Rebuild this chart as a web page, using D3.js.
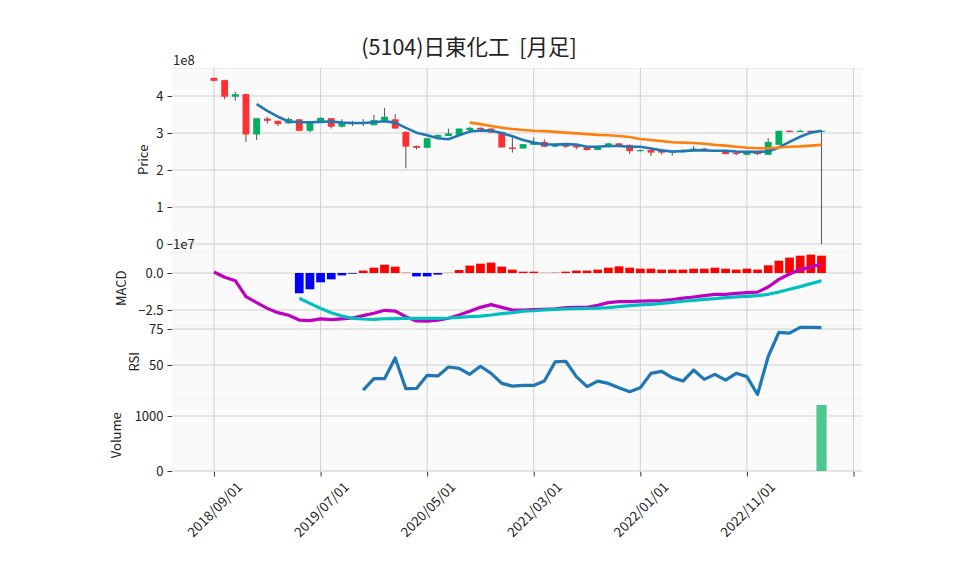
<!DOCTYPE html>
<html><head><meta charset="utf-8">
<script src="https://cdn.jsdelivr.net/npm/d3@7"></script>
<style>
body{margin:0;background:#fff}
text{font-family:"Noto Sans CJK JP","DejaVu Sans",sans-serif;fill:#222}
</style>
</head><body>
<svg id="c" width="958" height="575"></svg>
<script>
// ---------------- DATA (price values in units of 1e8, MACD in 1e7) ----------------
const titleText = "(5104)日東化工  [月足]";
const startMonth = new Date(2018, 8, 1);
const tickIdx = [0, 10, 20, 30, 40, 50, 60];

const openV  = [4.49,4.43,3.98,4.05,2.96,3.39,3.33,3.26,3.37,3.06,3.28,3.40,3.17,3.28,3.27,3.21,3.33,3.37,3.03,2.65,
                2.60,2.88,2.92,2.95,3.08,3.14,3.12,3.03,2.61,2.58,2.68,2.76,2.63,2.70,2.67,2.61,2.54,2.65,2.72,2.68,
                2.51,2.54,2.52,2.47,2.52,2.52,2.58,2.51,2.50,2.47,2.41,2.49,2.41,2.68,3.06,3.03,3.06,3.04];
const highV  = [4.50,4.44,4.11,4.07,3.40,3.44,3.33,3.42,3.37,3.31,3.42,3.40,3.37,3.33,3.38,3.49,3.68,3.51,3.05,2.66,
                2.86,2.95,3.12,3.12,3.16,3.15,3.13,3.03,2.90,2.70,2.88,2.83,2.68,2.72,2.67,2.61,2.61,2.73,2.73,2.69,
                2.56,2.55,2.53,2.53,2.56,2.65,2.60,2.54,2.50,2.47,2.50,2.50,2.86,3.06,3.07,3.09,3.07,3.07];
const lowV   = [4.40,3.91,3.87,2.76,2.81,3.26,3.19,3.26,3.05,3.03,3.28,3.12,3.15,3.19,3.19,3.21,3.33,3.12,2.05,2.55,
                2.60,2.86,2.92,2.95,3.05,3.08,3.00,2.61,2.47,2.58,2.68,2.62,2.62,2.60,2.56,2.53,2.54,2.61,2.66,2.43,
                2.50,2.38,2.42,2.39,2.47,2.52,2.51,2.50,2.43,2.40,2.40,2.40,2.41,2.68,3.02,3.03,3.02,0.00];
const closeV = [4.41,3.98,4.05,2.96,3.40,3.33,3.24,3.38,3.06,3.31,3.41,3.17,3.28,3.24,3.29,3.35,3.44,3.12,2.63,2.60,
                2.86,2.95,2.99,3.12,3.14,3.10,3.01,2.61,2.57,2.70,2.76,2.63,2.68,2.63,2.61,2.54,2.61,2.72,2.67,2.51,
                2.54,2.47,2.47,2.52,2.53,2.58,2.52,2.53,2.43,2.43,2.49,2.43,2.76,3.06,3.03,3.06,3.03,3.06];

const ma5 = [null,null,null,null,3.78,3.60,3.44,3.31,3.29,3.29,3.30,3.31,3.28,3.27,3.27,3.29,3.32,3.28,3.14,3.01,
             2.94,2.86,2.83,2.94,3.04,3.07,3.06,3.00,2.91,2.81,2.74,2.69,2.69,2.70,2.69,2.63,2.63,2.65,2.65,2.63,
             2.63,2.58,2.53,2.50,2.51,2.53,2.53,2.52,2.52,2.50,2.49,2.49,2.50,2.61,2.76,2.90,3.01,3.06];
const ma25 = [null,null,null,null,null,null,null,null,null,null,null,null,null,null,null,null,null,null,null,null,
              null,null,null,null,3.28,3.24,3.19,3.14,3.11,3.08,3.06,3.05,3.03,3.01,2.99,2.97,2.95,2.94,2.92,2.89,
              2.84,2.81,2.78,2.75,2.74,2.73,2.71,2.68,2.66,2.63,2.60,2.59,2.59,2.61,2.63,2.64,2.66,2.68];

const macdV = [0.07,-0.29,-0.52,-1.60,-2.00,-2.39,-2.68,-2.86,-3.18,-3.22,-3.10,-3.15,-3.10,-3.04,-2.88,-2.72,-2.52,-2.57,-2.95,-3.24,
               -3.26,-3.18,-3.06,-2.84,-2.59,-2.32,-2.14,-2.32,-2.50,-2.50,-2.48,-2.45,-2.43,-2.34,-2.32,-2.32,-2.18,-2.00,-1.93,-1.93,
               -1.90,-1.88,-1.86,-1.79,-1.70,-1.62,-1.53,-1.44,-1.44,-1.38,-1.33,-1.29,-0.95,-0.43,-0.07,0.24,0.40,0.61];
const signalV = [null,null,null,null,null,null,null,null,-1.71,-2.05,-2.39,-2.68,-2.91,-3.06,-3.11,-3.13,-3.09,-3.08,-3.06,-3.06,
               -3.06,-3.06,-3.04,-3.00,-2.95,-2.91,-2.84,-2.75,-2.68,-2.58,-2.55,-2.50,-2.46,-2.43,-2.41,-2.40,-2.38,-2.34,-2.27,-2.21,
               -2.16,-2.12,-2.05,-1.98,-1.91,-1.85,-1.78,-1.73,-1.66,-1.62,-1.58,-1.53,-1.44,-1.28,-1.10,-0.92,-0.72,-0.52];
const histV = [null,null,null,null,null,null,null,null,-1.37,-1.10,-0.63,-0.43,-0.16,-0.05,0.16,0.36,0.56,0.43,0.02,-0.23,
               -0.23,-0.11,0.01,0.20,0.50,0.63,0.70,0.43,0.23,0.09,0.09,0.01,0.02,0.09,0.16,0.16,0.23,0.36,0.45,0.36,
               0.29,0.29,0.23,0.23,0.23,0.29,0.29,0.36,0.29,0.23,0.29,0.23,0.52,0.83,1.04,1.17,1.24,1.17];

const rsiV = [null,null,null,null,null,null,null,null,null,null,null,null,null,null,32.5,40.5,40.5,54.9,33.5,33.7,
              42.8,42.4,48.6,47.7,43.5,49.1,44.2,37.2,35.3,35.8,35.8,38.8,52.1,52.6,41.9,34.9,38.8,37.2,34.2,31.4,
              34.2,44.2,45.6,41.2,38.8,46.5,40.0,43.5,39.5,44.2,41.9,29.5,55.9,72.7,72.2,76.2,76.2,76.0];

const volumeV = [0,0,0,0,0,0,0,0,0,0,0,0,0,0,0,0,0,0,0,0,0,0,0,0,0,0,0,0,0,0,
                 0,0,0,0,0,0,0,0,0,0,0,0,0,0,0,0,0,0,0,0,0,0,0,0,0,0,0,1200];

const priceTicks = [0,1,2,3,4];
const macdTicks = [0,-2.5];
const rsiTicks = [50,75];
const volTicks = [0,1000];

// ---------------- DRAW ----------------
const months = d3.timeMonth.range(startMonth, d3.timeMonth.offset(startMonth, 61));
const fmtDate = d3.timeFormat("%Y/%m/%d");
const idx = d3.range(openV.length);

const svg = d3.select("#c");
const L = 172, R = 862;
const x = d3.scaleLinear().domain([-3.94, 60.8]).range([L, R]);
const step = x(1) - x(0);
const tickFont = "13px";

const panels = [
  {key:"price", top:68, bottom:251.6, domain:[-0.205,4.757], ticks:priceTicks, fmt:d=>String(d), label:"Price", lx:142, offset:"1e8"},
  {key:"macd", top:251.6, bottom:325, domain:[-3.514,1.446], ticks:macdTicks, fmt:d=>d3.format(".1f")(d).replace("-","\u2212"), label:"MACD", lx:120, offset:"1e7"},
  {key:"rsi", top:325, bottom:398.5, domain:[26.7,77.8], ticks:rsiTicks, fmt:d=>String(d), label:"RSI", lx:133},
  {key:"vol", top:398.5, bottom:472, domain:[-18,1318], ticks:volTicks, fmt:d=>String(d), label:"Volume", lx:115}
];
panels.forEach(p => { p.y = d3.scaleLinear().domain(p.domain).range([p.bottom, p.top]); });

// backgrounds, grids, y axes
panels.forEach(p => {
  const g = svg.append("g");
  g.append("rect").attr("x", L).attr("y", p.top).attr("width", R-L).attr("height", p.bottom-p.top)
    .attr("fill", "#fafafa");
  g.append("line").attr("x1", L).attr("x2", R).attr("y1", p.top+0.5).attr("y2", p.top+0.5)
    .attr("stroke", "#f0f0f0").attr("stroke-width", 1);
  g.selectAll(".vg").data(tickIdx).join("line")
    .attr("x1", d=>x(d)).attr("x2", d=>x(d)).attr("y1", p.top).attr("y2", p.bottom)
    .attr("stroke", "#d0d0d0").attr("stroke-width", 1);
  g.selectAll(".hg").data(p.ticks).join("line")
    .attr("x1", L).attr("x2", R).attr("y1", d=>p.y(d)).attr("y2", d=>p.y(d))
    .attr("stroke", "#d0d0d0").attr("stroke-width", 1);
  const ax = svg.append("g").attr("transform", `translate(${L},0)`)
    .call(d3.axisLeft(p.y).tickValues(p.ticks).tickFormat(p.fmt).tickSize(4.5).tickPadding(4));
  ax.select(".domain").remove();
  ax.selectAll("line").attr("stroke", "#333");
  ax.selectAll("text").style("font-size", tickFont).attr("fill", "#222");
  svg.append("text").attr("transform", `translate(${p.lx},${(p.top+p.bottom)/2}) rotate(-90)`)
    .attr("text-anchor", "middle").attr("dominant-baseline", "central")
    .style("font-size", "13px").text(p.label);
  if (p.offset) {
    svg.append("text").attr("x", L+1).attr("y", p.top-3).style("font-size", tickFont).text(p.offset);
  }
});

const P = panels[0], M = panels[1], RS = panels[2], V = panels[3];

// candles
const upC = "#00b060", dnC = "#fe3032", wickC = "#606060";
const cw = step * 0.64;
const cg = svg.append("g");
cg.selectAll(".wick").data(idx).join("line")
  .attr("x1", i=>x(i)).attr("x2", i=>x(i))
  .attr("y1", i=>P.y(highV[i])).attr("y2", i=>P.y(lowV[i]))
  .attr("stroke", wickC).attr("stroke-width", 1.1);
cg.selectAll(".body").data(idx).join("rect")
  .attr("x", i=>x(i)-cw/2).attr("width", cw)
  .attr("y", i=>P.y(Math.max(openV[i], closeV[i])))
  .attr("height", i=>Math.max(1.2, Math.abs(P.y(openV[i]) - P.y(closeV[i]))))
  .attr("fill", i=> closeV[i] >= openV[i] ? upC : dnC);

// moving averages
const lineOf = (arr, ys) => d3.line().defined(i=>arr[i]!=null).x(i=>x(i)).y(i=>ys(arr[i]));
svg.append("path").attr("d", lineOf(ma5, P.y)(idx)).attr("fill","none")
  .attr("stroke","#1f77b4").attr("stroke-width",2.6).attr("stroke-linejoin","round");
svg.append("path").attr("d", lineOf(ma25, P.y)(idx)).attr("fill","none")
  .attr("stroke","#ff7f0e").attr("stroke-width",2.6).attr("stroke-linejoin","round");

// MACD
const hw = step * 0.82;
svg.append("g").selectAll("rect").data(idx.filter(i=>histV[i]!=null)).join("rect")
  .attr("x", i=>x(i)-hw/2).attr("width", hw)
  .attr("y", i=>M.y(Math.max(0, histV[i])))
  .attr("height", i=>Math.abs(M.y(histV[i]) - M.y(0)))
  .attr("fill", i=>histV[i] >= 0 ? "#ff0000" : "#0000ff");
svg.append("path").attr("d", lineOf(macdV, M.y)(idx)).attr("fill","none")
  .attr("stroke","#bf00bf").attr("stroke-width",3.2).attr("stroke-linejoin","round");
svg.append("path").attr("d", lineOf(signalV, M.y)(idx)).attr("fill","none")
  .attr("stroke","#00bfbf").attr("stroke-width",3.2).attr("stroke-linejoin","round");

// RSI
svg.append("path").attr("d", lineOf(rsiV, RS.y)(idx)).attr("fill","none")
  .attr("stroke","#1f77b4").attr("stroke-width",3.2).attr("stroke-linejoin","round");

// Volume
const vw = step * 0.95;
svg.append("g").selectAll("rect").data(idx.filter(i=>volumeV[i]>0)).join("rect")
  .attr("x", i=>x(i)-vw/2).attr("width", vw)
  .attr("y", i=>V.y(volumeV[i])).attr("height", i=>V.y(0)-V.y(volumeV[i]))
  .attr("fill", "#4dc790");

// x axis
const xa = svg.append("g").attr("transform", `translate(0,${V.bottom})`)
  .call(d3.axisBottom(x).tickValues(tickIdx).tickFormat("").tickSize(4.5));
xa.select(".domain").remove();
xa.selectAll("line").attr("stroke", "#333");
tickIdx.forEach(t => {
  if (t >= openV.length) return;
  const tx = svg.append("text").attr("text-anchor","middle").attr("dominant-baseline","central")
    .style("font-size","13.5px").text(fmtDate(months[t]));
  const len = tx.node().getComputedTextLength();
  const h = 13.5;
  const bb = (len + h) * Math.SQRT1_2;
  const cy = V.bottom + 7 + bb/2;
  tx.attr("transform", `translate(${x(t)},${cy}) rotate(-45)`);
});

// title
svg.append("text").attr("x", 469).attr("y", 45).attr("text-anchor","middle")
  .attr("dominant-baseline","central").attr("xml:space","preserve").style("white-space","pre")
  .style("font-size","21.5px").text(titleText);
</script>
</body></html>
